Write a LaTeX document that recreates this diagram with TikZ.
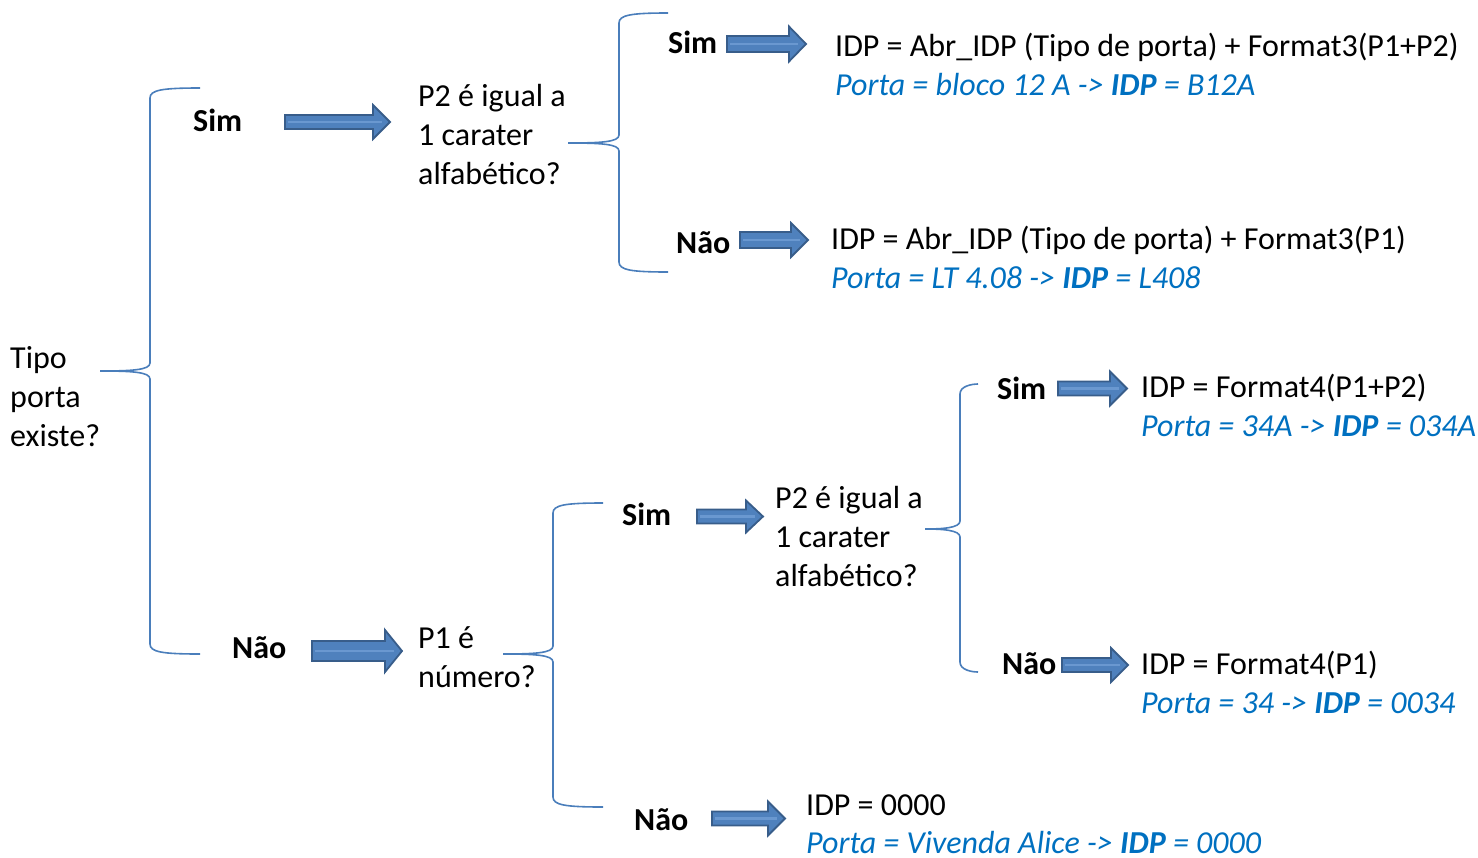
\documentclass[tikz,border=0pt]{standalone}
\usepackage{fontspec}
\setmainfont{Carlito}
\definecolor{bracec}{HTML}{4A7EBB}
\definecolor{arrfill}{HTML}{4F81BD}
\definecolor{arrline}{HTML}{385D8A}
\definecolor{arrlight}{HTML}{6A98D0}
\definecolor{bluetxt}{HTML}{0070C0}
\newcommand\ofbrace[6]{% xend, ytop, xv, xtip, ytip, ybot
  \draw[bracesty] (#1,#2) .. controls ({#3+12},#2) and (#3,{#2+2}) .. (#3,{#2+10})
    -- (#3,{#5-8}) .. controls (#3,{#5-1}) and ({#3-18},#5) .. (#4,#5)
    .. controls ({#3-18},#5) and (#3,{#5+1}) .. (#3,{#5+8})
    -- (#3,{#6-10}) .. controls (#3,{#6-2}) and ({#3+12},#6) .. (#1,#6);}
\newcommand\blkarrow[5]{% x1, x2, y, shaft half, head half
  \filldraw[arrowsty] (#1,{#3-#4}) -- ({#2-17},{#3-#4}) -- ({#2-17},{#3-#5}) -- (#2,#3)
    -- ({#2-17},{#3+#5}) -- ({#2-17},{#3+#4}) -- (#1,{#3+#4}) -- cycle;
  \draw[arrlight, line width=2.5pt] ({#1+3},#3) -- ({#2-8},#3);}
\begin{document}
\begin{tikzpicture}[x=1pt,y=-1pt,
  txt/.style={anchor=base west, inner sep=0pt, font=\fontsize{32}{39}\selectfont},
  lbl/.style={txt, font=\fontsize{32}{39}\selectfont\bfseries},
  ex/.style={txt, text=bluetxt, font=\fontsize{32}{39}\selectfont\itshape},
  bracesty/.style={bracec, line width=1.6pt},
  arrowsty/.style={fill=arrfill, draw=arrline, line width=1.8pt, line join=miter}]
\useasboundingbox (0,0) rectangle (1478,857);
% braces
\ofbrace{200}{88}{150}{100}{371}{654}
\ofbrace{668}{13}{619}{568}{143}{272}
\ofbrace{603}{503}{553}{503}{654}{807}
\ofbrace{978}{384}{960}{925}{529}{672}
% left question
\node[txt] (tipo) at (10,368) {Tipo};
\node[txt] (tipo2) at (10,407) {porta};
\node[txt] (tipo3) at (10,446) {existe?};
% first level
\node[lbl] (sim1) at (193,131) {Sim};
\node[lbl] (nao1) at (232,658) {Não};
\blkarrow{285}{390}{122}{7}{17}
\blkarrow{312}{402}{651}{10}{21}
\node[txt] (q1) at (418,106) {P2 é igual a};
\node[txt] (q1b) at (418,145) {1 carater};
\node[txt] (q1c) at (418,184) {alfabético?};
\node[txt] (q2) at (418,648) {P1 é};
\node[txt] (q2b) at (418,687) {número?};
% upper branch
\node[lbl] (sim2) at (668,53) {Sim};
\blkarrow{727}{806}{44}{8}{17.5}
\node[txt] (r1) at (835,56) {IDP = Abr\_IDP (Tipo de porta) + Format3(P1+P2)};
\node[ex] (r1b) at (835,95) {Porta = bloco 12 A -> \textbf{IDP} = B12A};
\node[lbl] (nao2) at (676,253) {Não};
\blkarrow{740}{808}{240}{8}{17}
\node[txt] (r2) at (831,249) {IDP = Abr\_IDP (Tipo de porta) + Format3(P1)};
\node[ex] (r2b) at (831,288) {Porta = LT 4.08 -> \textbf{IDP} = L408};
% lower branch
\node[lbl] (sim3) at (622,525) {Sim};
\blkarrow{697}{763}{516.5}{7}{16}
\node[txt] (q3) at (775,508) {P2 é igual a};
\node[txt] (q3b) at (775,547) {1 carater};
\node[txt] (q3c) at (775,586) {alfabético?};
\node[lbl] (nao3) at (634,830) {Não};
\blkarrow{712}{785}{818.5}{7}{17}
\node[txt] (r3) at (806,815) {IDP = 0000};
\node[ex] (r3b) at (806,853) {Porta = Vivenda Alice -> \textbf{IDP} = 0000};
% lower right
\node[lbl] (sim4) at (997,399) {Sim};
\blkarrow{1058}{1127}{388.5}{7}{17}
\node[txt] (r4) at (1141,397) {IDP = Format4(P1+P2)};
\node[ex] (r4b) at (1141,436) {Porta = 34A -> \textbf{IDP} = 034A};
\node[lbl] (nao4) at (1002,674) {Não};
\blkarrow{1062}{1128}{665}{7}{17}
\node[txt] (r5) at (1141,674) {IDP = Format4(P1)};
\node[ex] (r5b) at (1141,713) {Porta = 34 -> \textbf{IDP} = 0034};
\end{tikzpicture}
\end{document}
